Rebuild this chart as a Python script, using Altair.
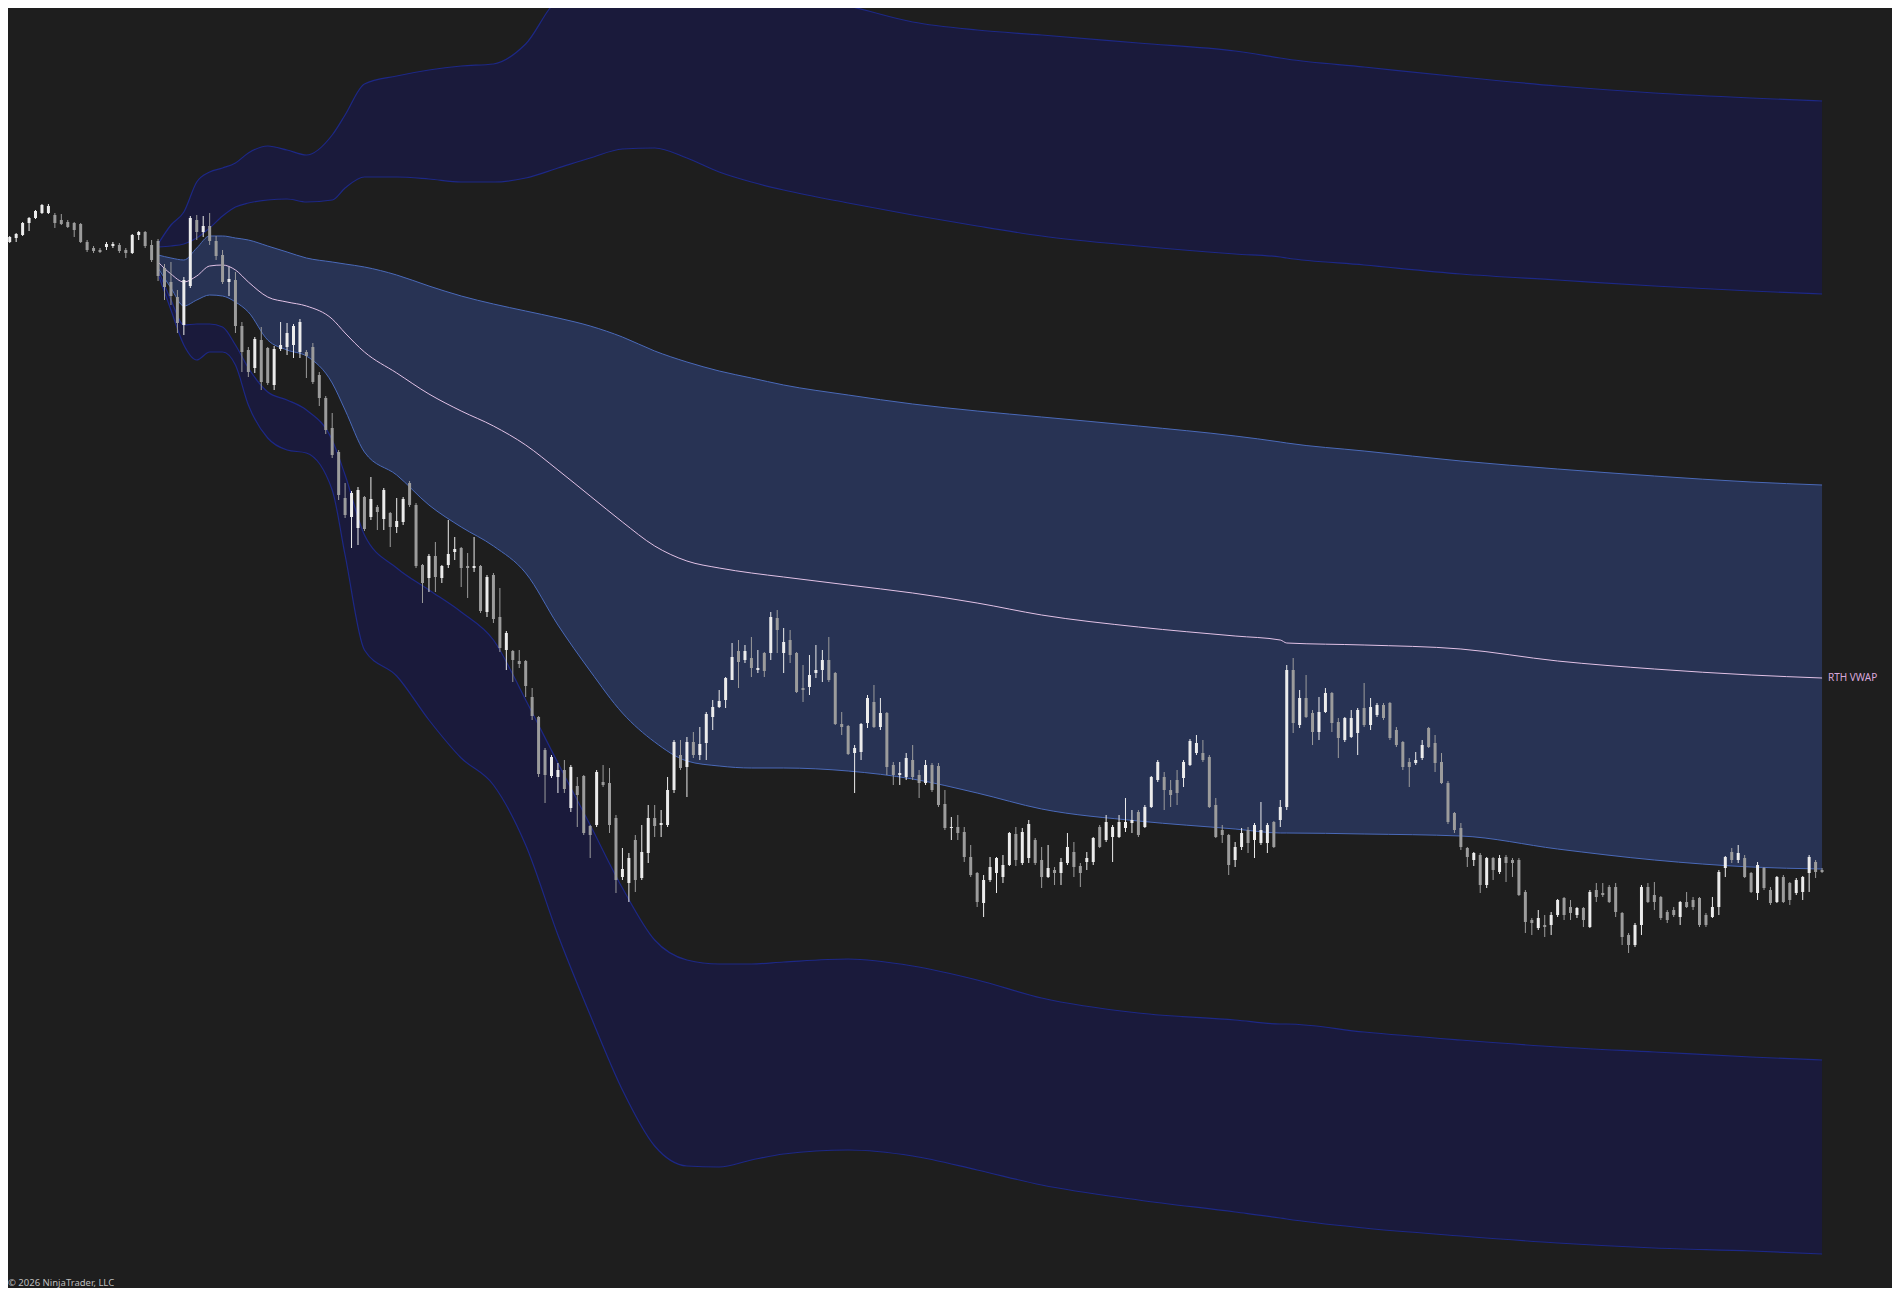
import altair as alt
import pandas as pd

# ---------------- candle data (one value per bar) ----------------
OPEN = [6758, 6762, 6765, 6777, 6782, 6787, 6787, 6785, 6780, 6778,
        6777, 6776, 6758, 6752, 6750, 6753, 6754, 6755, 6750, 6747,
        6765, 6768, 6755, 6759, 6732, 6718, 6703, 6675, 6714, 6780,
        6768, 6774, 6759, 6745, 6718, 6720, 6674, 6650, 6632, 6660,
        6652, 6615, 6651, 6653, 6655, 6648, 6648, 6653, 6625, 6602,
        6572, 6548, 6502, 6483, 6472, 6503, 6483, 6493, 6481, 6487,
        6473, 6478, 6517, 6495, 6435, 6422, 6444, 6422, 6435, 6448,
        6452, 6434, 6432, 6434, 6388, 6425, 6383, 6350, 6349, 6339,
        6339, 6303, 6283, 6250, 6224, 6223, 6230, 6192, 6214, 6224,
        6174, 6175, 6218, 6217, 6182, 6123, 6117, 6160, 6122, 6147,
        6182, 6175, 6175, 6210, 6245, 6233, 6258, 6245, 6257, 6283,
        6293, 6300, 6320, 6349, 6340, 6342, 6330, 6347, 6347, 6382,
        6347, 6360, 6347, 6312, 6313, 6327, 6330, 6340, 6327, 6276,
        6274, 6247, 6248, 6277, 6298, 6273, 6287, 6235, 6225, 6223,
        6240, 6225, 6217, 6235, 6234, 6196, 6172, 6173, 6168, 6143,
        6127, 6097, 6120, 6127, 6123, 6135, 6166, 6137, 6142, 6160,
        6140, 6123, 6130, 6127, 6137, 6148, 6134, 6138, 6138, 6173,
        6160, 6163, 6163, 6172, 6177, 6188, 6173, 6193, 6220, 6223,
        6210, 6220, 6222, 6235, 6247, 6247, 6243, 6195, 6170, 6165,
        6140, 6153, 6170, 6160, 6157, 6157, 6178, 6180, 6193, 6330,
        6275, 6302, 6287, 6268, 6288, 6307, 6278, 6260, 6263, 6267,
        6292, 6275, 6285, 6295, 6297, 6270, 6258, 6238, 6237, 6242,
        6272, 6257, 6238, 6217, 6187, 6172, 6152, 6140, 6145, 6115,
        6142, 6128, 6143, 6140, 6140, 6108, 6080, 6072, 6075, 6075,
        6085, 6102, 6093, 6085, 6092, 6073, 6110, 6107, 6113, 6113,
        6087, 6065, 6055, 6075, 6113, 6105, 6103, 6088, 6090, 6083,
        6098, 6100, 6102, 6085, 6083, 6093, 6132, 6148, 6140, 6142,
        6127, 6107, 6132, 6110, 6098, 6123, 6117, 6107, 6108, 6127,
        6138, 6130]

HIGH = [6764, 6767, 6778, 6783, 6790, 6796, 6796, 6787, 6786, 6780,
        6778, 6777, 6760, 6754, 6752, 6758, 6758, 6757, 6752, 6766,
        6769, 6769, 6760, 6761, 6736, 6738, 6710, 6723, 6784, 6785,
        6784, 6787, 6764, 6750, 6733, 6728, 6678, 6653, 6663, 6673,
        6653, 6654, 6678, 6677, 6676, 6681, 6650, 6657, 6628, 6604,
        6587, 6550, 6517, 6509, 6513, 6504, 6523, 6495, 6512, 6488,
        6502, 6503, 6519, 6497, 6436, 6446, 6458, 6435, 6480, 6463,
        6453, 6447, 6463, 6435, 6425, 6427, 6412, 6369, 6350, 6350,
        6340, 6312, 6284, 6252, 6245, 6237, 6240, 6235, 6223, 6225,
        6175, 6230, 6235, 6232, 6185, 6152, 6147, 6165, 6175, 6195,
        6195, 6190, 6223, 6260, 6260, 6263, 6268, 6273, 6288, 6300,
        6310, 6323, 6357, 6360, 6355, 6363, 6350, 6348, 6388, 6390,
        6372, 6370, 6348, 6335, 6345, 6355, 6350, 6363, 6328, 6288,
        6275, 6255, 6277, 6305, 6315, 6302, 6288, 6238, 6238, 6247,
        6255, 6230, 6240, 6237, 6237, 6210, 6183, 6185, 6173, 6155,
        6128, 6125, 6143, 6143, 6145, 6168, 6173, 6172, 6180, 6162,
        6153, 6155, 6133, 6142, 6167, 6158, 6137, 6148, 6163, 6175,
        6185, 6175, 6185, 6202, 6190, 6190, 6195, 6224, 6240, 6228,
        6220, 6230, 6240, 6261, 6265, 6260, 6245, 6202, 6175, 6166,
        6158, 6172, 6173, 6177, 6198, 6177, 6179, 6200, 6335, 6342,
        6310, 6325, 6290, 6303, 6312, 6308, 6282, 6283, 6290, 6292,
        6317, 6302, 6297, 6297, 6298, 6273, 6259, 6242, 6248, 6260,
        6273, 6265, 6247, 6219, 6188, 6177, 6153, 6148, 6147, 6143,
        6143, 6145, 6145, 6142, 6142, 6110, 6082, 6090, 6085, 6088,
        6101, 6103, 6100, 6093, 6093, 6110, 6117, 6117, 6115, 6117,
        6088, 6067, 6077, 6115, 6117, 6118, 6104, 6090, 6093, 6099,
        6108, 6103, 6103, 6087, 6103, 6130, 6144, 6152, 6155, 6145,
        6128, 6138, 6133, 6113, 6124, 6125, 6118, 6122, 6124, 6145,
        6140, 6132]

LOW = [6757, 6758, 6764, 6769, 6781, 6786, 6786, 6772, 6775, 6772,
       6763, 6757, 6748, 6747, 6747, 6750, 6752, 6747, 6742, 6746,
       6760, 6752, 6738, 6719, 6700, 6695, 6667, 6665, 6712, 6760,
       6763, 6755, 6740, 6716, 6704, 6667, 6628, 6623, 6627, 6610,
       6615, 6610, 6649, 6645, 6642, 6642, 6622, 6616, 6594, 6566,
       6542, 6500, 6482, 6452, 6455, 6469, 6480, 6470, 6470, 6453,
       6467, 6475, 6493, 6432, 6397, 6408, 6408, 6417, 6432, 6440,
       6413, 6402, 6428, 6387, 6383, 6377, 6348, 6330, 6318, 6332,
       6303, 6280, 6223, 6197, 6222, 6207, 6207, 6188, 6173, 6165,
       6142, 6173, 6213, 6167, 6107, 6120, 6098, 6108, 6120, 6137,
       6163, 6163, 6173, 6207, 6230, 6203, 6242, 6240, 6240, 6270,
       6292, 6292, 6320, 6312, 6337, 6323, 6327, 6323, 6340, 6347,
       6327, 6337, 6307, 6298, 6305, 6322, 6318, 6318, 6275, 6265,
       6245, 6207, 6240, 6272, 6272, 6270, 6225, 6215, 6215, 6220,
       6220, 6202, 6215, 6208, 6193, 6170, 6160, 6160, 6138, 6123,
       6093, 6083, 6118, 6107, 6117, 6134, 6134, 6135, 6137, 6135,
       6112, 6122, 6115, 6115, 6135, 6123, 6113, 6130, 6135, 6152,
       6158, 6138, 6162, 6168, 6167, 6163, 6172, 6192, 6218, 6190,
       6193, 6195, 6213, 6234, 6245, 6238, 6192, 6162, 6157, 6125,
       6133, 6150, 6147, 6142, 6155, 6147, 6152, 6173, 6190, 6267,
       6272, 6282, 6255, 6260, 6287, 6268, 6242, 6258, 6262, 6245,
       6273, 6270, 6283, 6280, 6260, 6253, 6230, 6213, 6235, 6240,
       6252, 6228, 6216, 6176, 6167, 6150, 6133, 6134, 6107, 6112,
       6120, 6126, 6118, 6123, 6104, 6067, 6065, 6070, 6063, 6065,
       6083, 6080, 6080, 6082, 6073, 6072, 6098, 6103, 6097, 6083,
       6055, 6047, 6053, 6065, 6097, 6090, 6080, 6077, 6083, 6075,
       6092, 6090, 6073, 6073, 6082, 6085, 6123, 6137, 6137, 6122,
       6107, 6100, 6110, 6095, 6097, 6097, 6095, 6105, 6100, 6108,
       6122, 6127]

CLOSE = [6763, 6766, 6777, 6782, 6789, 6795, 6794, 6777, 6776, 6773,
         6770, 6758, 6750, 6749, 6748, 6756, 6756, 6749, 6747, 6765,
         6768, 6754, 6740, 6724, 6713, 6704, 6677, 6720, 6782, 6768,
         6774, 6759, 6744, 6718, 6721, 6674, 6648, 6628, 6661, 6618,
         6617, 6651, 6655, 6667, 6674, 6678, 6644, 6618, 6602, 6570,
         6545, 6505, 6485, 6507, 6510, 6471, 6501, 6488, 6510, 6473,
         6479, 6501, 6495, 6434, 6417, 6444, 6423, 6434, 6446, 6451,
         6432, 6432, 6434, 6389, 6423, 6381, 6352, 6367, 6340, 6336,
         6314, 6284, 6226, 6225, 6243, 6230, 6211, 6233, 6205, 6167,
         6165, 6228, 6215, 6175, 6120, 6131, 6142, 6120, 6148, 6182,
         6174, 6177, 6210, 6258, 6232, 6258, 6245, 6256, 6286, 6293,
         6299, 6322, 6343, 6338, 6349, 6332, 6332, 6329, 6383, 6370,
         6358, 6345, 6308, 6310, 6325, 6330, 6340, 6320, 6276, 6273,
         6246, 6252, 6276, 6302, 6273, 6287, 6233, 6225, 6227, 6242,
         6223, 6217, 6235, 6210, 6195, 6172, 6173, 6167, 6143, 6125,
         6098, 6120, 6133, 6142, 6135, 6167, 6140, 6168, 6176, 6137,
         6123, 6132, 6127, 6138, 6153, 6133, 6127, 6142, 6162, 6153,
         6178, 6173, 6178, 6178, 6180, 6165, 6193, 6223, 6238, 6210,
         6205, 6207, 6238, 6259, 6257, 6240, 6193, 6163, 6165, 6135,
         6153, 6167, 6157, 6175, 6170, 6175, 6153, 6193, 6330, 6277,
         6302, 6283, 6268, 6288, 6307, 6277, 6262, 6282, 6282, 6290,
         6275, 6293, 6295, 6282, 6262, 6255, 6233, 6233, 6240, 6255,
         6253, 6237, 6217, 6178, 6170, 6153, 6143, 6147, 6115, 6142,
         6130, 6142, 6137, 6137, 6105, 6078, 6077, 6082, 6073, 6085,
         6100, 6085, 6087, 6092, 6080, 6108, 6103, 6105, 6098, 6088,
         6063, 6055, 6075, 6113, 6098, 6098, 6082, 6080, 6085, 6098,
         6093, 6093, 6075, 6075, 6093, 6128, 6143, 6140, 6147, 6123,
         6108, 6135, 6112, 6097, 6123, 6098, 6100, 6120, 6123, 6143,
         6128, 6128]

# ---------------- RTH VWAP and deviation bands (read at these bars) ----------------
BAND_BARS = [23, 25, 27, 29, 31, 33, 35, 37, 40, 43, 46, 50, 52, 55, 60, 65, 70, 75, 80, 85,
             90, 95, 100, 105, 110, 115, 120, 130, 140, 150, 160, 175, 190, 197, 198, 210,
             225, 240, 255, 270, 281]
VWAP = [6738, 6726, 6718, 6724, 6734, 6735, 6730, 6718, 6703, 6698, 6694, 6681, 6667, 6648,
        6627, 6606, 6589, 6574, 6555, 6530, 6504, 6478, 6454, 6439, 6432, 6427, 6423, 6415,
        6407, 6397, 6385, 6373, 6364, 6360, 6357, 6355, 6351, 6339, 6331, 6325, 6322]
UP1 = [6745, 6742, 6740, 6752, 6764, 6764, 6762, 6760, 6754, 6748, 6742, 6738, 6736, 6733,
       6725, 6714, 6704, 6696, 6689, 6682, 6674, 6663, 6649, 6638, 6629, 6622, 6615, 6605,
       6596, 6589, 6583, 6574, 6564, 6558, 6557, 6549, 6539, 6531, 6524, 6518, 6515]
LO1 = [6732, 6712, 6694, 6700, 6705, 6704, 6698, 6688, 6660, 6650, 6644, 6617, 6590, 6548,
       6525, 6495, 6473, 6454, 6427, 6375, 6329, 6287, 6258, 6239, 6234, 6232, 6232, 6229,
       6221, 6207, 6191, 6179, 6171, 6167, 6167, 6166, 6164, 6151, 6140, 6133, 6131]
UP2 = [6753, 6754, 6756, 6762, 6772, 6784, 6793, 6797, 6800, 6801, 6798, 6800, 6812, 6823,
       6823, 6821, 6818, 6818, 6822, 6832, 6842, 6851, 6852, 6842, 6828, 6818, 6810, 6797,
       6785, 6774, 6764, 6754, 6746, 6743, 6742, 6735, 6726, 6720, 6714, 6709, 6706]
LO2 = [6730, 6700, 6675, 6676, 6676, 6673, 6655, 6632, 6608, 6600, 6590, 6560, 6525, 6465,
       6432, 6410, 6388, 6360, 6300, 6237, 6175, 6112, 6060, 6040, 6036, 6036, 6038, 6041,
       6034, 6020, 6002, 5987, 5980, 5976, 5976, 5968, 5960, 5953, 5948, 5943, 5940]
UP3 = [6756, 6775, 6788, 6818, 6828, 6832, 6837, 6847, 6854, 6850, 6845, 6865, 6885, 6916,
       6924, 6930, 6934, 6936, 6956, 6999, 7006, 7011, 7015, 7017, 7016, 7012, 7006, 6994,
       6978, 6970, 6965, 6957, 6949, 6942, 6941, 6933, 6923, 6914, 6907, 6902, 6899]
LO3 = [6726, 6690, 6655, 6640, 6648, 6648, 6635, 6595, 6562, 6550, 6547, 6510, 6445, 6350,
       6324, 6280, 6242, 6215, 6155, 6065, 5985, 5910, 5854, 5834, 5833, 5840, 5846, 5850,
       5844, 5830, 5815, 5800, 5788, 5782, 5781, 5772, 5764, 5757, 5752, 5749, 5746]

VWAP_LABEL = "RTH VWAP"
COPYRIGHT = "© 2026 NinjaTrader, LLC"

# ---------------- styling ----------------
BG = "#1e1e1e"
DARK_FILL = "#1a1a3b"
DARK_EDGE = "#1d2886"
LIGHT_FILL = "#283354"
LIGHT_EDGE = "#4a69b8"
VWAP_COLOR = "#e2c2e6"
LABEL_COLOR = "#d9a8dc"
UP_COLOR = "#ececec"
DOWN_COLOR = "#9c9c9c"
FONT = "Noto Sans"

W, H = 1884, 1280
X_DOMAIN = [0.509, 291.07]
Y_DOMAIN = [5712, 6992]

candles = pd.DataFrame({
    "bar": list(range(len(OPEN))),
    "open": OPEN, "high": HIGH, "low": LOW, "close": CLOSE,
})
candles["dir"] = ["up" if c >= o else "down" for o, c in zip(OPEN, CLOSE)]

bands = pd.DataFrame({
    "bar": BAND_BARS, "vwap": VWAP,
    "up1": UP1, "lo1": LO1, "up2": UP2, "lo2": LO2, "up3": UP3, "lo3": LO3,
})
bands["label"] = ""
bands.loc[bands.index[-1], "label"] = VWAP_LABEL

xs = alt.Scale(domain=X_DOMAIN, nice=False, zero=False)
ys = alt.Scale(domain=Y_DOMAIN, nice=False, zero=False)
X = alt.X("bar:Q", scale=xs, axis=None)


def Y(field):
    return alt.Y(f"{field}:Q", scale=ys, axis=None)


bb = alt.Chart(bands)
upper_dark = bb.mark_area(color=DARK_FILL, interpolate="monotone", clip=True).encode(
    x=X, y=Y("up3"), y2="up2")
lower_dark = bb.mark_area(color=DARK_FILL, interpolate="monotone", clip=True).encode(
    x=X, y=Y("lo2"), y2="lo3")
inner = bb.mark_area(color=LIGHT_FILL, interpolate="monotone", clip=True).encode(
    x=X, y=Y("up1"), y2="lo1")

edges = []
for f in ["up3", "up2", "lo2", "lo3"]:
    edges.append(bb.mark_line(color=DARK_EDGE, strokeWidth=1.2, interpolate="monotone",
                              clip=True).encode(x=X, y=Y(f)))
for f in ["up1", "lo1"]:
    edges.append(bb.mark_line(color=LIGHT_EDGE, strokeWidth=1, interpolate="monotone",
                              clip=True).encode(x=X, y=Y(f)))

vwap_line = bb.mark_line(color=VWAP_COLOR, strokeWidth=1, interpolate="monotone",
                         clip=True).encode(x=X, y=Y("vwap"))

label = alt.Chart(bands.tail(1)).mark_text(
    align="left", baseline="middle", dx=6, fontSize=10, font=FONT, color=LABEL_COLOR
).encode(x=X, y=Y("vwap"), text="label:N")

color = alt.Color("dir:N", scale=alt.Scale(domain=["up", "down"], range=[UP_COLOR, DOWN_COLOR]),
                  legend=None)
cc = alt.Chart(candles)
wicks = cc.mark_rule(strokeWidth=1, clip=True).encode(x=X, y=Y("low"), y2="high", color=color)
bodies = cc.mark_bar(size=3, clip=True).encode(x=X, y=Y("open"), y2="close", color=color)

copyright_txt = alt.Chart(pd.DataFrame({"t": [COPYRIGHT]})).mark_text(
    align="left", baseline="bottom", fontSize=9.5, font=FONT, color="#bdbdbd"
).encode(x=alt.value(0), y=alt.value(H), text="t:N")

chart = alt.layer(
    upper_dark, lower_dark, inner, *edges, vwap_line, wicks, bodies, label, copyright_txt
).properties(
    width=W, height=H, background=BG, padding=0,
    autosize=alt.AutoSizeParams(type="none"),
).configure_view(strokeWidth=0)

chart.save("out.html", embed_options={"renderer": "svg", "actions": False})
